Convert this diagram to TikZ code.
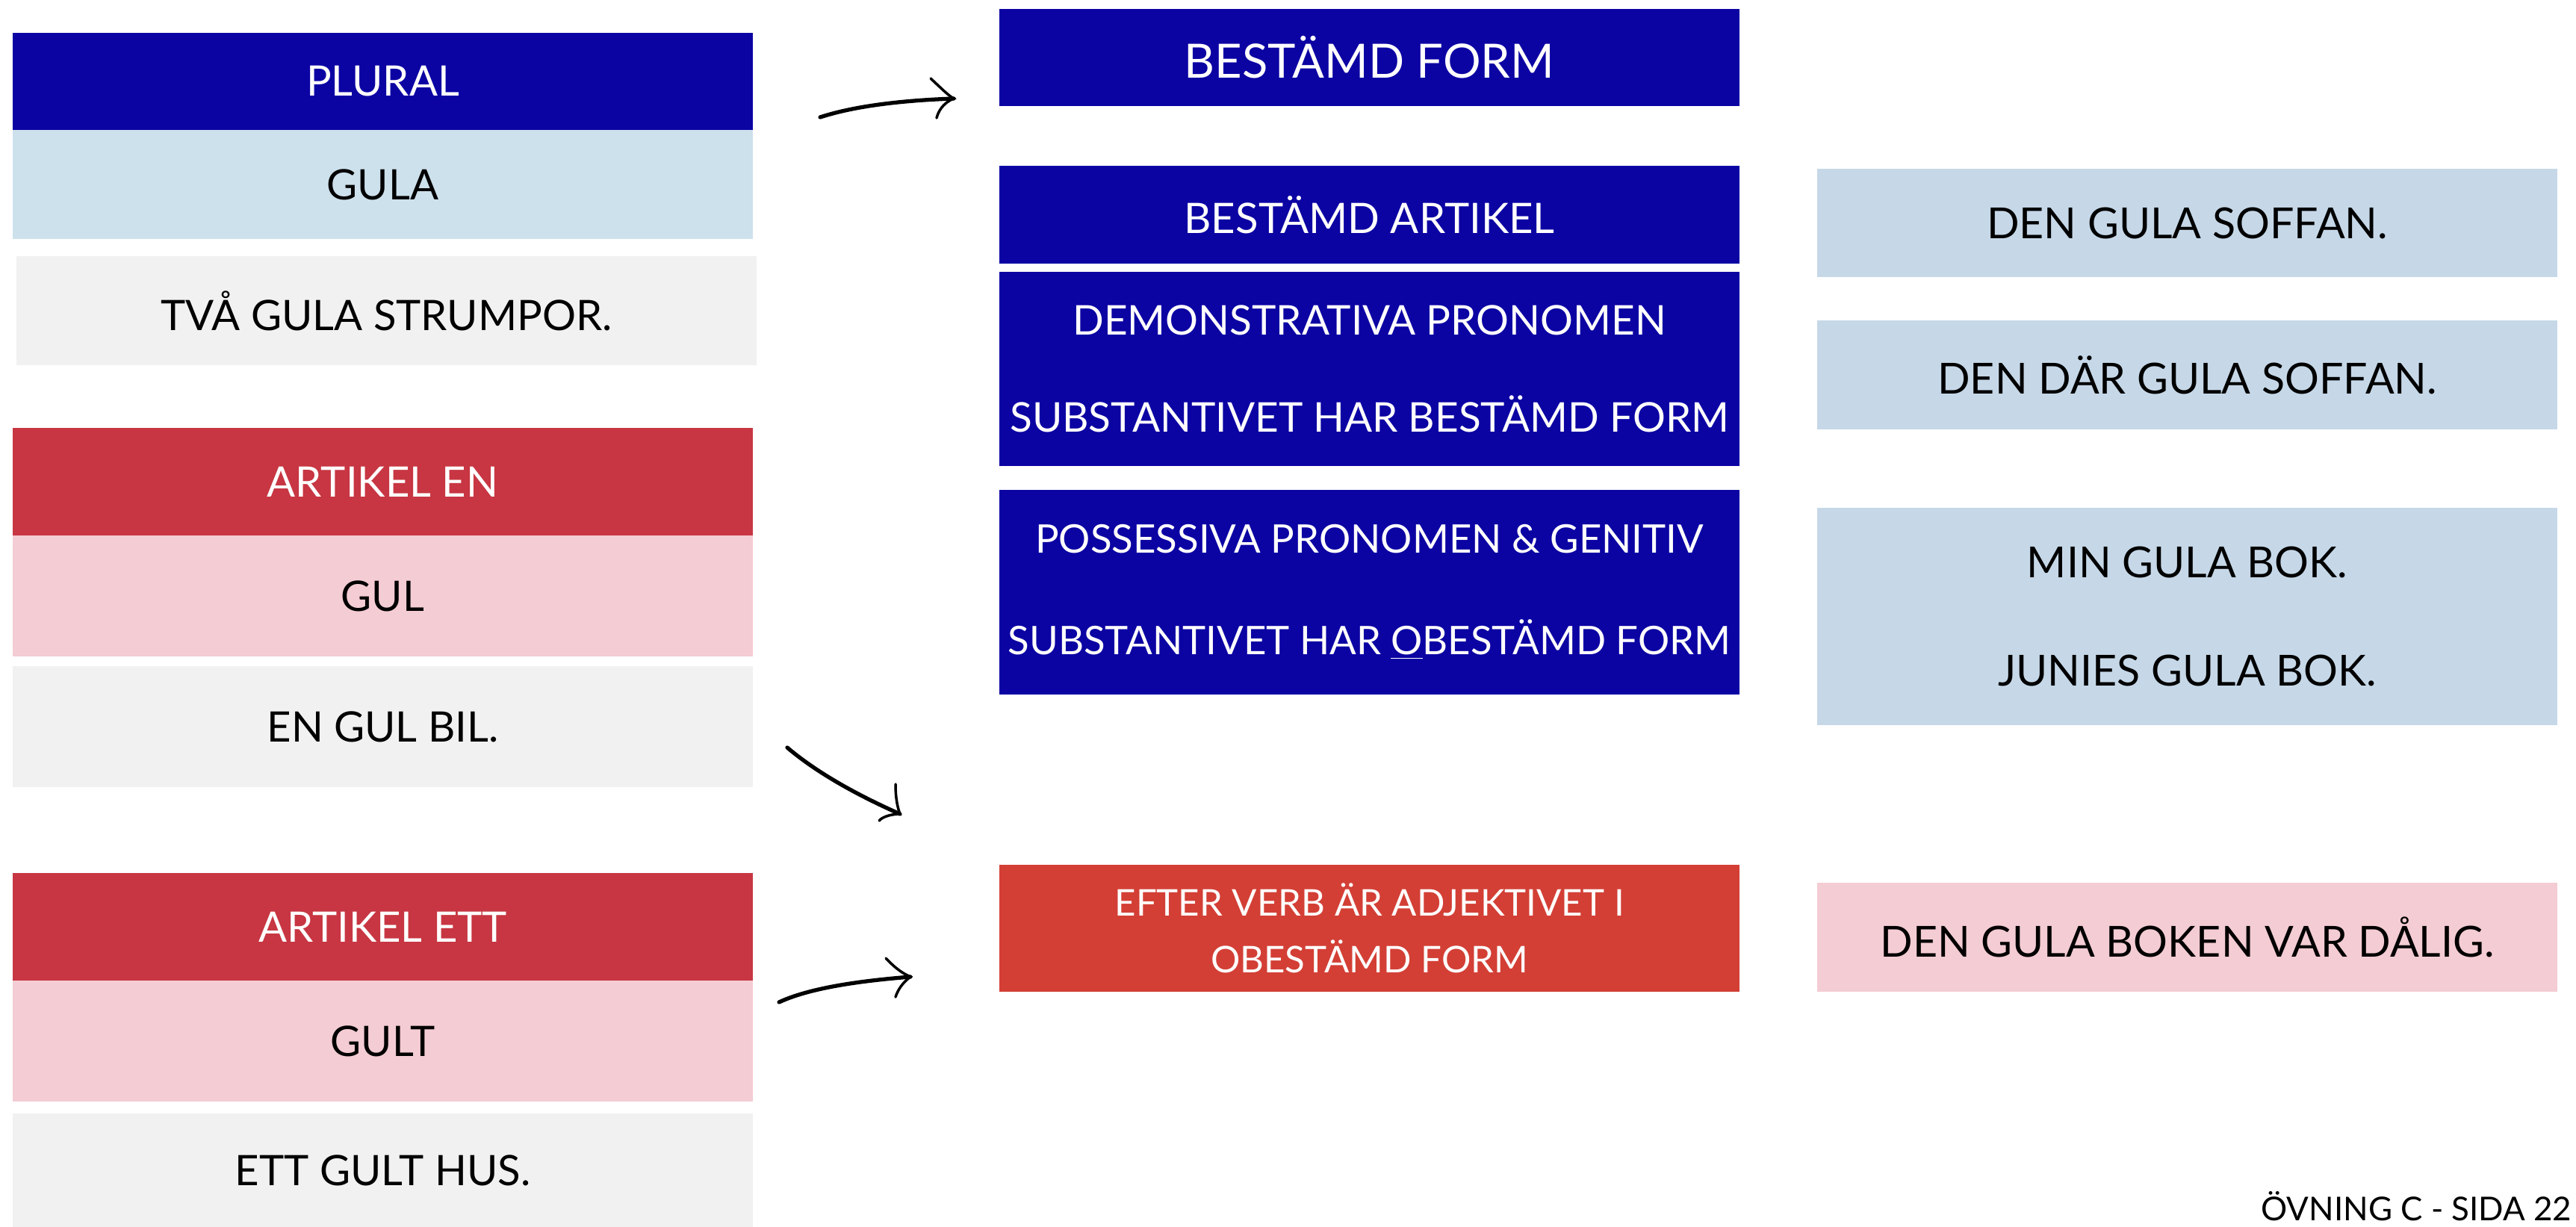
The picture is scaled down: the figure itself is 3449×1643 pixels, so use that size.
\documentclass[tikz,border=0pt]{standalone}
\usepackage{fontspec}
\setmainfont{Lato}
\definecolor{dblue}{HTML}{0C03A3}
\definecolor{lblue}{HTML}{CDE1EC}
\definecolor{rblue}{HTML}{C6D8E8}
\definecolor{lgray}{HTML}{F1F1F1}
\definecolor{dred}{HTML}{C73642}
\definecolor{pinkc}{HTML}{F4CCD3}
\definecolor{ored}{HTML}{D33F35}
\tikzset{
  cell/.style={rectangle, inner sep=0pt, outer sep=0pt, minimum width=9.91cm, align=center, font=\fontsize{16}{19}\selectfont},
  hdr/.style={cell, fill=dblue, text=white},
  redhdr/.style={cell, fill=dred, text=white},
  lb/.style={cell, fill=lblue, text=black},
  rb/.style={cell, fill=rblue, text=black, font=\fontsize{16.3}{41}\selectfont},
  gr/.style={cell, fill=lgray, text=black},
  pk/.style={cell, fill=pinkc, text=black},
  hand/.style={line width=1.5pt, line cap=round, black},
  barb/.style={line width=1pt, line cap=round, black}
}
\begin{document}
\begin{tikzpicture}[x=0.01cm, y=-0.01cm]
\useasboundingbox (0,0) rectangle (3449,1643);
% left column
\node[hdr, minimum height=1.30cm] (plural) at (512.5,109) {PLURAL};
\node[lb, minimum height=1.46cm] (gula) at (512.5,247) {GULA};
\node[gr, minimum height=1.46cm] (tva) at (517.5,416) {TVÅ GULA STRUMPOR.};
\node[redhdr, minimum height=1.44cm] (artEn) at (512.5,645) {ARTIKEL EN};
\node[pk, minimum height=1.62cm] (gul) at (512.5,798) {GUL};
\node[gr, minimum height=1.62cm] (engul) at (512.5,973) {EN GUL BIL.};
\node[redhdr, minimum height=1.44cm] (artEtt) at (512.5,1241) {ARTIKEL ETT};
\node[pk, minimum height=1.62cm] (gult) at (512.5,1394) {GULT};
\node[gr, minimum height=1.52cm] (etthus) at (512.5,1567) {ETT GULT HUS.};
% middle column
\node[hdr, minimum height=1.30cm, font=\fontsize{18}{22}\selectfont] (bform) at (1833.5,77) {BESTÄMD FORM};
\node[hdr, minimum height=1.31cm] (bart) at (1833.5,287.5) {BESTÄMD ARTIKEL};
\node[hdr, minimum height=2.60cm, font=\fontsize{15.6}{37}\selectfont] (demo) at (1833.5,494) {DEMONSTRATIVA PRONOMEN\\SUBSTANTIVET HAR BESTÄMD FORM};
\node[hdr, minimum height=2.74cm, font=\fontsize{15}{38.5}\selectfont] (poss) at (1833.5,793) {POSSESSIVA PRONOMEN \& GENITIV\\SUBSTANTIVET HAR \underline{O}BESTÄMD FORM};
\node[cell, fill=ored, text=white, minimum height=1.70cm, font=\fontsize{14}{21.6}\selectfont] (efter) at (1833.5,1243) {EFTER VERB ÄR ADJEKTIVET I\\OBESTÄMD FORM};
% right column
\node[rb, minimum height=1.45cm] (soffan) at (2928.5,298.5) {DEN GULA SOFFAN.};
\node[rb, minimum height=1.46cm] (dar) at (2928.5,502) {DEN DÄR GULA SOFFAN.};
\node[rb, minimum height=2.91cm] (bok) at (2928.5,825.5) {MIN GULA BOK.\\JUNIES GULA BOK.};
\node[cell, fill=pinkc, text=black, minimum height=1.46cm, font=\fontsize{16.3}{20}\selectfont] (boken) at (2928.5,1255) {DEN GULA BOKEN VAR DÅLIG.};
% footer
\node[anchor=base east, inner sep=0pt, font=\fontsize{12.5}{15}\selectfont] (footer) at (3444,1634) {ÖVNING C - SIDA 22};
% hand-drawn arrows
\coordinate (a1s) at (1098,157);
\coordinate (a1t) at (1277,132);
\coordinate (a1u) at (1246,105);
\coordinate (a1d) at (1254,158);
\draw[hand] (a1s) .. controls (1150,140) and (1220,134) .. (a1t);
\draw[barb] (a1u) .. controls (1262,120) and (1270,128) .. (a1t) .. controls (1262,138) and (1256,150) .. (a1d);
\coordinate (a2s) at (1054,1001);
\coordinate (a2t) at (1205,1090);
\coordinate (a2u) at (1199,1050);
\coordinate (a2d) at (1177,1099);
\draw[hand] (a2s) .. controls (1100,1040) and (1160,1070) .. (a2t);
\draw[barb] (a2u) .. controls (1199,1070) and (1202,1082) .. (a2t) .. controls (1195,1090) and (1182,1093) .. (a2d);
\coordinate (a3s) at (1043,1342);
\coordinate (a3t) at (1219,1308);
\coordinate (a3u) at (1186,1283);
\coordinate (a3d) at (1199,1335);
\draw[hand] (a3s) .. controls (1090,1320) and (1170,1312) .. (a3t);
\draw[barb] (a3u) .. controls (1200,1298) and (1210,1304) .. (a3t) .. controls (1208,1316) and (1202,1326) .. (a3d);
\end{tikzpicture}
\end{document}
